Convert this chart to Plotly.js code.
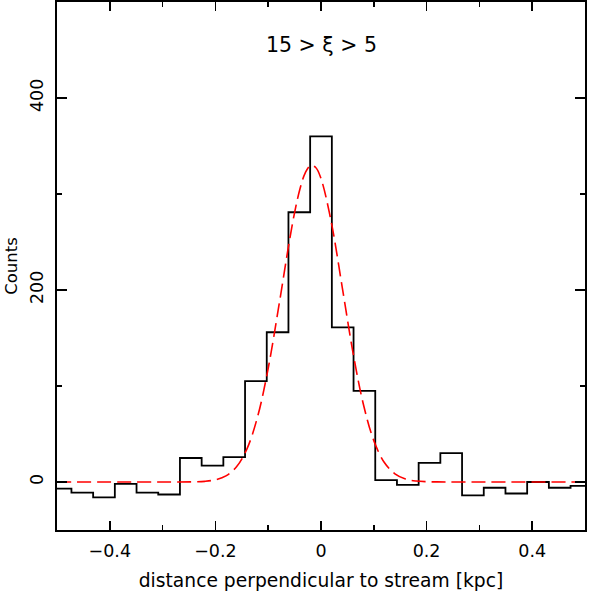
<!DOCTYPE html>
<html>
<head>
<meta charset="utf-8">
<script src="https://cdn.plot.ly/plotly-3.0.1.min.js"></script>
<style>html,body{margin:0;padding:0;background:#fff;}#plot{width:598px;height:598px;}</style>
</head>
<body>
<div id="plot"></div>
<script>
// Histogram: bin centers (kpc) and counts
var binWidth = 0.0411;
var binCenters = [-0.4932, -0.4521, -0.4110, -0.3699, -0.3288, -0.2877, -0.2466, -0.2055, -0.1644, -0.1233,
                  -0.0822, -0.0411, 0.0, 0.0411, 0.0822, 0.1233, 0.1644, 0.2055, 0.2466, 0.2877,
                  0.3288, 0.3699, 0.4110, 0.4521, 0.4932];
var counts = [-7, -11, -16, -2, -11, -13, 25, 17, 26, 105,
              156, 281, 360, 161, 95, 2, -3, 20, 30, -14,
              -6, -12, 0, -6, -4];

// Fitted curve
var fitX = [-0.50, -0.30, -0.24, -0.22, -0.20, -0.18, -0.16, -0.14, -0.12, -0.10, -0.08, -0.06, -0.05, -0.04, -0.03, -0.02, -0.01,
            0.00, 0.02, 0.04, 0.06, 0.08, 0.10, 0.12, 0.14, 0.16, 0.18, 0.20, 0.22, 0.30, 0.50];
var fitY = [0, 0, 0.2, 0.7, 2.3, 6.4, 15.8, 34.8, 68.2, 118.5, 182.9, 250.7, 280.6, 305.0, 321.8, 329.6, 327.6,
            316.1, 269.2, 203.6, 136.7, 81.5, 43.1, 20.3, 8.5, 3.1, 1.0, 0.3, 0.1, 0, 0];

var xTickVals = [-0.4, -0.2, 0, 0.2, 0.4];
var xTickText = ['\u22120.4', '\u22120.2', '0', '0.2', '0.4'];
var yTickVals = [0, 200, 400];
var titleText = '15 &gt; \u03BE &gt; 5';

// step outline from bin edges
var stepX = [], stepY = [];
for (var i = 0; i < binCenters.length; i++) {
  stepX.push(binCenters[i] - binWidth / 2);
  stepY.push(counts[i]);
}
stepX.push(binCenters[binCenters.length - 1] + binWidth / 2);
stepY.push(counts[counts.length - 1]);

var traces = [
  {x: stepX, y: stepY, type: 'scatter', mode: 'lines', line: {shape: 'hv', color: '#000', width: 1.8}, hoverinfo: 'skip'},
  {x: fitX, y: fitY, type: 'scatter', mode: 'lines', line: {shape: 'spline', color: '#ff0000', width: 1.6, dash: '14px,6px'}, hoverinfo: 'skip'}
];

var fam = 'DejaVu Sans, sans-serif';
var tickFont = {family: fam, size: 17.5, color: '#000'};

var layout = {
  width: 598, height: 598,
  margin: {l: 57, r: 13, t: 2, b: 68},
  paper_bgcolor: '#fff', plot_bgcolor: '#fff',
  showlegend: false,
  font: {family: fam, size: 16, color: '#000'},
  xaxis: {
    range: [-0.5, 0.5], tickvals: xTickVals, ticktext: xTickText,
    ticks: 'inside', ticklen: 9, tickwidth: 1.5, tickcolor: '#000',
    minor: {ticks: 'inside', ticklen: 5, dtick: 0.1, tick0: 0, tickwidth: 1.5, tickcolor: '#000'},
    showline: true, linecolor: '#000', linewidth: 2, mirror: 'ticks',
    showgrid: false, zeroline: false,
    tickfont: tickFont, ticklabelstandoff: 4,
    title: {text: 'distance perpendicular to stream [kpc]', font: {family: fam, size: 18.7, color: '#000'}, standoff: 14}
  },
  yaxis: {
    range: [-50, 500], tickvals: yTickVals,
    ticks: 'inside', ticklen: 10, tickwidth: 1.5, tickcolor: '#000',
    minor: {ticks: 'inside', ticklen: 5, dtick: 100, tick0: 0, tickwidth: 1.5, tickcolor: '#000'},
    showline: true, linecolor: '#000', linewidth: 2, mirror: 'ticks',
    showgrid: false, zeroline: false,
    tickangle: -90, tickfont: tickFont, ticklabelstandoff: 5,
    title: {text: 'Counts', font: {family: fam, size: 16.5, color: '#000'}, standoff: 5}
  },
  annotations: [{
    x: 0, y: 1 - (45 - 2) / 528, xref: 'x', yref: 'paper', yanchor: 'middle', xanchor: 'center',
    text: titleText, showarrow: false, font: {family: fam, size: 20.5, color: '#000'}
  }]
};

Plotly.newPlot('plot', traces, layout, {displayModeBar: false, staticPlot: true});
</script>
</body>
</html>
